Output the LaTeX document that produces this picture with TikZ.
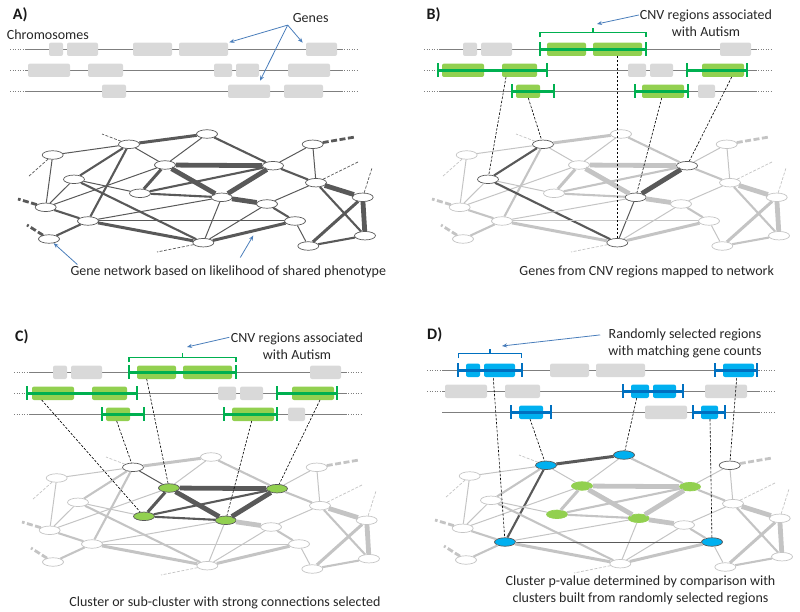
\documentclass[tikz,border=0pt]{standalone}
\usepackage{fontspec}
\setmainfont{Carlito}
\usetikzlibrary{shapes.geometric,arrows.meta}

\definecolor{netdark}{HTML}{595959}
\definecolor{netlight}{HTML}{C4C4C4}
\definecolor{genegray}{HTML}{D9D9D9}
\definecolor{chromgray}{HTML}{7F7F7F}
\definecolor{cnvgreen}{HTML}{00B050}
\definecolor{genegreen}{HTML}{92D050}
\definecolor{randblue}{HTML}{0070C0}
\definecolor{geneblue}{HTML}{00B0F0}
\definecolor{callout}{HTML}{4A7EBB}

\tikzset{
  gene/.style={ellipse, fill=white, minimum width=21pt, minimum height=8.5pt,
    inner sep=0pt, line width=0.7pt},
  darknode/.style={draw=netdark},
  lightnode/.style={draw=netlight},
  greennode/.style={fill=genegreen, draw=netdark},
  palegreen/.style={fill=genegreen, draw=genegreen},
  bluenode/.style={fill=geneblue, draw=netdark},
  darkedge/.style={draw=netdark},
  lightedge/.style={draw=netlight},
  stubthin/.style={line width=0.7pt, dash pattern=on 3pt off 1.5pt},
  stubthick/.style={line width=2.8pt, dash pattern=on 6pt off 2.5pt},
  chromline/.style={draw=chromgray, line width=1.5pt},
  chromdots/.style={draw=chromgray, line width=1.5pt, dash pattern=on 1pt off 1.5pt},
  genebox/.style={fill=genegray, rounded corners=2pt},
  mapline/.style={draw=black, line width=0.6pt, dash pattern=on 2.5pt off 1.5pt},
  bracket/.style={line width=1.3pt},
  callarrow/.style={draw=callout, line width=0.8pt, -{Stealth[length=5pt,width=4pt]}},
  note/.style={inner sep=0pt, align=center, text=black!85,
    font=\fontsize{14}{17}\selectfont},
  panel/.style={inner sep=0pt, anchor=west, text=black!90,
    font=\fontsize{16}{18}\selectfont\bfseries},
  % panel A: whole network dark
  anode/.style={darknode}, aedge/.style={darkedge},
  % panel B: genes hit by CNV regions
  bnode/.style={lightnode}, bedge/.style={lightedge},
  bn2/.style={darknode}, bn5/.style={darknode}, bn7/.style={darknode},
  bn10/.style={darknode}, bn17/.style={darknode},
  be2-5/.style={darkedge}, be5-17/.style={darkedge},
  be7-10/.style={darkedge}, be10-17/.style={darkedge},
  bg1-3/.style={fill=genegreen}, bg1-4/.style={fill=genegreen},
  bg2-1/.style={fill=genegreen}, bg2-2/.style={fill=genegreen},
  bg2-5/.style={fill=genegreen}, bg3-1/.style={fill=genegreen},
  bg3-2/.style={fill=genegreen},
  % panel C: selected cluster
  cnode/.style={lightnode}, cedge/.style={lightedge},
  cn2/.style={darknode}, cn4/.style={greennode}, cn6/.style={greennode},
  cn7/.style={greennode}, cn10/.style={greennode},
  ce2-4/.style={darkedge}, ce4-6/.style={darkedge}, ce4-7/.style={darkedge},
  ce4-10/.style={darkedge}, ce6-7/.style={darkedge}, ce6-10/.style={darkedge},
  ce7-10/.style={darkedge},
  cg1-3/.style={fill=genegreen}, cg1-4/.style={fill=genegreen},
  cg2-1/.style={fill=genegreen}, cg2-2/.style={fill=genegreen},
  cg2-5/.style={fill=genegreen}, cg3-1/.style={fill=genegreen},
  cg3-2/.style={fill=genegreen},
  % panel D: random regions
  dnode/.style={lightnode}, dedge/.style={lightedge},
  dn2/.style={bluenode}, dn3/.style={bluenode}, dn13/.style={bluenode},
  dn14/.style={bluenode}, dn8/.style={darknode},
  dn4/.style={palegreen}, dn6/.style={palegreen}, dn7/.style={palegreen},
  dn10/.style={palegreen},
  de2-3/.style={darkedge}, de2-13/.style={darkedge}, de13-14/.style={darkedge},
  dg1-1/.style={fill=geneblue}, dg1-2/.style={fill=geneblue},
  dg1-5/.style={fill=geneblue}, dg2-3/.style={fill=geneblue},
  dg2-4/.style={fill=geneblue}, dg3-1/.style={fill=geneblue},
  dg3-3/.style={fill=geneblue},
}

% gene network: #1 panel, #2 dx, #3 dy
\newcommand{\genenet}[3]{%
  \foreach \n/\x/\y in {1/52.7/155, 2/129/144.3, 3/207/134, 4/165/165,
      5/74/179.3, 6/140/193.3, 7/273/165.7, 8/312.7/144.3, 9/316/182.7,
      10/221.7/197.3, 11/267/204, 12/45.7/207.3, 13/88/221, 14/295/221,
      15/362.7/197.3, 16/49/239, 17/203.3/242.7, 18/308.3/246, 19/365/235.7}
    \node[gene, #1node, #1n\n/.try] (#1\n) at (\x+#2,\y+#3) {};
  \foreach \a/\b/\w in {1/2/1, 1/12/1, 2/3/3, 2/4/1, 2/5/2.1,
      2/13/2.1, 3/4/1, 3/7/2.1, 4/6/3, 4/7/4.8, 4/10/4.8, 4/12/1,
      5/6/1, 5/12/1, 5/17/2.1, 6/7/2.1, 6/10/2.1, 7/8/1, 7/9/2.1,
      7/10/4.8, 8/9/1, 9/11/1, 9/15/4.8, 9/19/2.1, 10/11/4.8,
      10/13/1, 10/17/1, 11/14/2.1, 11/17/1, 12/13/2.1, 13/14/1,
      13/16/2.1, 13/17/3, 14/17/3, 14/18/1, 15/18/3, 15/19/4.8,
      18/19/2.1}
    \draw[#1edge, line width=\w pt, #1e\a-\b/.try] (#1\a) -- (#1\b);
  \foreach \n/\x/\y/\st in {1/28/177/stubthin, 2/102/134/stubthin,
      12/18/199/stubthick, 16/27/225/stubthick, 17/157/252/stubthin,
      8/355/137/stubthick, 9/358/162/stubthin, 15/372/168/stubthin}{
    \coordinate (#1s\n) at (\x+#2,\y+#3);
    \draw[#1edge, \st] (#1\n) -- (#1s\n);
  }
}

% chromosomes: #1 panel, #2 dx, #3 dy, #4 end of last gene, #5 rows with left dots
\newcommand{\chromset}[5]{%
  \foreach \r in {1,2,3}{
    \draw[chromline] (25+#2,28.3+21*\r+#3) -- (343+#2,28.3+21*\r+#3);
    \draw[chromdots] (344+#2,28.3+21*\r+#3) -- (357+#2,28.3+21*\r+#3);
  }
  \foreach \r in {#5}
    \draw[chromdots] (10+#2,28.3+21*\r+#3) -- (24+#2,28.3+21*\r+#3);
  \foreach \r/\i/\xa/\xb in {1/1/49/63, 1/2/67/98, 1/3/133/172, 1/4/179/228,
      1/5/306/337, 2/1/28/70, 2/2/88/123, 2/3/214/232, 2/4/236/259,
      2/5/288/330, 3/1/102/126, 3/2/228/270, 3/3/284/#4}
    \fill[genebox, #1g\r-\i/.try] (\xa+#2,21.6+21*\r+#3) rectangle (\xb+#2,35+21*\r+#3);
}

% CNV or random region: colour, x1, x2, y
\newcommand{\regionbar}[4]{%
  \draw[#1, line width=2.6pt] (#2,#4) -- (#3,#4);
  \draw[#1, line width=1.6pt] (#2,#4-7) -- (#2,#4+7) (#3,#4-7) -- (#3,#4+7);
}

\begin{document}
\begin{tikzpicture}[x=1pt,y=-1pt]
  \useasboundingbox (0,0) rectangle (800,612);

  % ---- A) network
  \node[panel] (alabel) at (12.7,15) {A)};
  \chromset{a}{0}{0}{323}{1,2,3}
  \genenet{a}{0}{0}
  \node[note, anchor=west] (chrom) at (6.7,35) {Chromosomes};
  \node[note] (genes) at (310.7,18.3) {Genes};
  \coordinate (gtip1) at (229.3,42.3);
  \coordinate (gtip2) at (302.7,42.7);
  \coordinate (gtip3) at (260,80.7);
  \draw[callarrow] ([shift={(-5pt,-2pt)}]genes.south west) -- (gtip1);
  \draw[callarrow] ([shift={(-5pt,-2pt)}]genes.south west) -- (gtip2);
  \draw[callarrow] ([shift={(-5pt,-2pt)}]genes.south west) -- (gtip3);
  \node[note] (acap) at (228.3,271.7)
    {Gene network based on likelihood of shared phenotype};
  \coordinate (atip) at (253.3,235.5);
  \draw[callarrow] ([shift={(7pt,1pt)}]acap.north west) -- (a16);
  \draw[callarrow] ([shift={(12pt,8pt)}]acap.north) -- (atip);

  % ---- B) CNV genes mapped
  \node[panel] (blabel) at (426.5,15) {B)};
  \chromset{b}{414}{0}{301}{1,2,3}
  \regionbar{cnvgreen}{540}{646}{49.3}
  \regionbar{cnvgreen}{438}{547}{70.3}
  \regionbar{cnvgreen}{687}{747}{70.3}
  \regionbar{cnvgreen}{512}{554}{91.3}
  \regionbar{cnvgreen}{635}{688}{91.3}
  \draw[bracket, cnvgreen] (540,37.5) -- (540,32.5) -- (646,32.5) -- (646,37.5)
    (593,32.5) -- (593,28.5);
  \genenet{b}{414}{0}
  \node[note] (bcnv) at (706,23.5) {CNV regions associated\\with Autism};
  \coordinate (btip) at (597,24);
  \draw[callarrow] ([shift={(-1pt,8.5pt)}]bcnv.west) -- (btip);
  \coordinate (bm1) at (506,77);
  \coordinate (bm2) at (528.3,98);
  \coordinate (bm3) at (617.3,56);
  \coordinate (bm4) at (661.7,98);
  \coordinate (bm5) at (731.7,77);
  \draw[mapline] (bm1) -- (b5);
  \draw[mapline] (bm2) -- (b2);
  \draw[mapline] (bm3) -- (b17);
  \draw[mapline] (bm4) -- (b10);
  \draw[mapline] (bm5) -- (b7);
  \node[note] (bcap) at (646.7,271.7) {Genes from CNV regions mapped to network};

  % ---- C) cluster selected
  \node[panel] (clabel) at (15,337) {C)};
  \chromset{c}{4}{323}{301}{1,2,3}
  \regionbar{cnvgreen}{129}{236}{372.3}
  \regionbar{cnvgreen}{27}{137}{393.3}
  \regionbar{cnvgreen}{277}{337}{393.3}
  \regionbar{cnvgreen}{102}{144}{414.3}
  \regionbar{cnvgreen}{224}{277}{414.3}
  \draw[bracket, cnvgreen] (129,362) -- (129,357.3) -- (236,357.3) -- (236,362)
    (182.7,357.3) -- (182.7,353.3);
  \genenet{c}{4}{323}
  \node[note] (ccnv) at (297,345.8) {CNV regions associated\\with Autism};
  \coordinate (ctip) at (187,347);
  \draw[callarrow] ([shift={(-1.5pt,8.5pt)}]ccnv.west) -- (ctip);
  \coordinate (cm1) at (41.7,400);
  \coordinate (cm2) at (116.7,421);
  \coordinate (cm3) at (146.7,379);
  \coordinate (cm4) at (251.7,421);
  \coordinate (cm5) at (320,400);
  \draw[mapline] (cm1) -- (c6);
  \draw[mapline] (cm2) -- (c2);
  \draw[mapline] (cm3) -- (c4);
  \draw[mapline] (cm4) -- (c10);
  \draw[mapline] (cm5) -- (c7);
  \node[note] (ccap) at (225,603)
    {Cluster or sub-cluster with strong connections selected};

  % ---- D) random regions
  \node[panel] (dlabel) at (427,335) {D)};
  \chromset{d}{417}{321}{301}{1,2}
  \regionbar{randblue}{458}{522}{370.3}
  \regionbar{randblue}{715}{757}{370.3}
  \regionbar{randblue}{623}{683}{391.3}
  \regionbar{randblue}{511}{551}{412.3}
  \regionbar{randblue}{693}{725}{412.3}
  \draw[bracket, randblue] (458.3,358.3) -- (458.3,353.3) -- (521.7,353.3)
    -- (521.7,358.3) (490,353.3) -- (490,349.3);
  \genenet{d}{417}{321}
  \node[note] (drand) at (685,343.4)
    {Randomly selected regions\\with matching gene counts};
  \coordinate (dtip) at (502,346);
  \draw[callarrow] ([shift={(-8pt,8.5pt)}]drand.west) -- (dtip);
  \coordinate (dm1) at (493.3,378);
  \coordinate (dm2) at (530,419);
  \coordinate (dm3) at (636.7,398);
  \coordinate (dm4) at (710,419);
  \coordinate (dm5) at (736.7,378);
  \draw[mapline] (dm1) -- (d13);
  \draw[mapline] (dm2) -- (d2);
  \draw[mapline] (dm3) -- (d3);
  \draw[mapline] (dm4) -- (d14);
  \draw[mapline] (dm5) -- (d8);
  \node[note] (dcap) at (640.5,590)
    {Cluster p-value determined by comparison with\\clusters built from randomly selected regions};
\end{tikzpicture}
\end{document}
